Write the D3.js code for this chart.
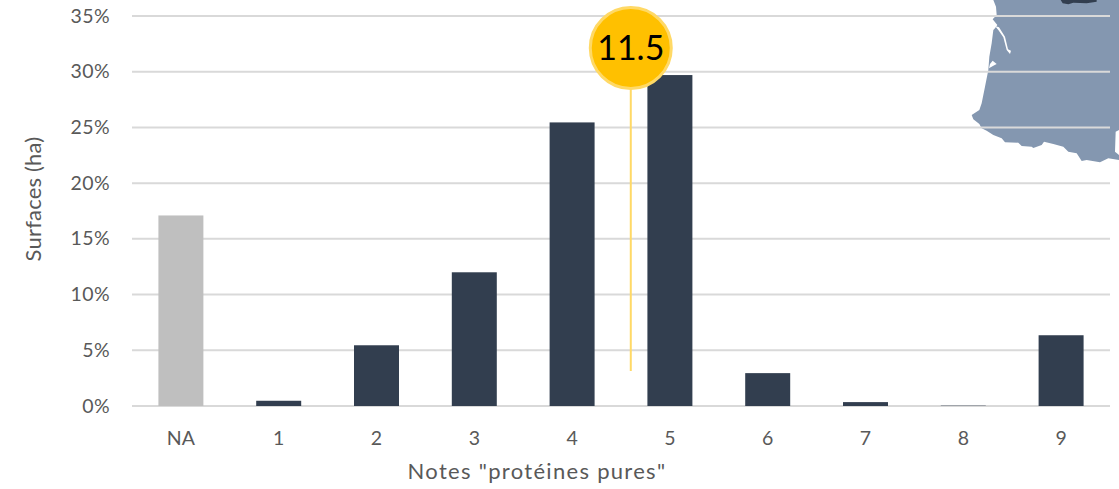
<!DOCTYPE html>
<html><head><meta charset="utf-8">
<script src="https://cdn.jsdelivr.net/npm/d3@7"></script>
<style>html,body{margin:0;padding:0;background:#fff}svg{display:block}text{font-family:Lato,sans-serif}</style>
</head><body><svg id="c" width="1119" height="489"></svg>
<script>
const categories=["NA","1","2","3","4","5","6","7","8","9"];
const values=[17.1,0.47,5.45,12.0,25.45,29.7,2.95,0.35,0.03,6.35];
const yTicks=[0,5,10,15,20,25,30,35];
const markerLabels=["11.5"];
const xTitle='Notes "protéines pures"';
const yTitle="Surfaces (ha)";
// map outline
const mapLand=[[160,0],[168,20],[170,45],[158,58],[172,75],[165,85],[160,90],[155,130],[148,170],[145,210],[135,260],[125,310],[118,330],[95,345],[100,358],[118,372],[125,385],[140,392],[160,405],[185,415],[195,427],[235,428],[245,438],[275,440],[280,444],[305,435],[312,425],[340,432],[370,440],[385,455],[410,460],[425,483],[440,480],[480,487],[505,475],[537,480],[537,465],[525,455],[527,395],[537,390],[537,0]];
const mapEstuary=[[165,78],[177,82],[195,110],[204,148],[213,152],[210,162],[200,150],[190,112],[175,90]];
const mapBasin=[[147,205],[150,192],[158,182],[170,192],[160,197]];
const mapNorth=[[362,0],[368,10],[385,13],[400,8],[440,10],[470,5],[470,0]];

const svg=d3.select("#c");
const x=d3.scaleBand().domain(categories).range([132,1110]).paddingInner(0.54).paddingOuter(0.27);
const y=d3.scaleLinear().domain([0,35]).range([406,16]);
const mx=d3.scaleLinear().domain([0,537]).range([940,1119]);
const my=d3.scaleLinear().domain([0,510]).range([0,170]);
const ln=d3.line().x(d=>mx(d[0])).y(d=>my(d[1])).curve(d3.curveLinearClosed);

const map=svg.append("g");
map.append("path").attr("d",ln(mapLand)).attr("fill","#8497b0");
map.append("path").attr("d",ln(mapEstuary)).attr("fill","#fff");
map.append("path").attr("d",ln(mapBasin)).attr("fill","#fff");
map.append("path").attr("d",ln(mapNorth)).attr("fill","#323e4f");

svg.append("g").selectAll("line").data(yTicks).join("line")
 .attr("x1",132).attr("x2",1110).attr("y1",d=>y(d)).attr("y2",d=>y(d))
 .attr("stroke","#d9d9d9").attr("stroke-width",2);

svg.append("g").selectAll("rect").data(categories).join("rect")
 .attr("x",d=>x(d)).attr("width",x.bandwidth())
 .attr("y",(d,i)=>y(values[i])).attr("height",(d,i)=>y(0)-y(values[i]))
 .attr("fill",d=>d==="NA"?"#bfbfbf":"#323e4f");

svg.append("g").selectAll("text").data(yTicks).join("text")
 .attr("x",110).attr("y",d=>y(d)+6.5).attr("text-anchor","end")
 .attr("font-size",19.5).attr("letter-spacing",0.4).attr("fill","#595959").text(d=>d+"%");
svg.append("g").selectAll("text").data(categories).join("text")
 .attr("x",d=>x(d)+x.bandwidth()/2).attr("y",445).attr("text-anchor","middle")
 .attr("font-size",19.5).attr("fill","#595959").text(d=>d);
svg.append("text").attr("x",537).attr("y",479).attr("text-anchor","middle")
 .attr("font-size",22).attr("letter-spacing",1.3).attr("fill","#595959").text(xTitle);
svg.append("text").attr("transform","translate(41,199) rotate(-90)").attr("text-anchor","middle")
 .attr("font-size",22).attr("letter-spacing",0.2).attr("fill","#595959").text(yTitle);

const cx=()=>x("5")+x.bandwidth()/2-x.step()*0.4;
const g=svg.append("g").selectAll("g").data(markerLabels).join("g");
g.append("line").attr("x1",cx).attr("x2",cx).attr("y1",88).attr("y2",371).attr("stroke","#ffd966").attr("stroke-width",2);
g.append("circle").attr("cx",cx).attr("cy",48).attr("r",40.5).attr("fill","#ffc000").attr("stroke","#ffd966").attr("stroke-width",3);
g.append("text").attr("x",cx).attr("y",60).attr("text-anchor","middle").attr("font-size",34).attr("fill","#000").text(d=>d);
</script></body></html>
